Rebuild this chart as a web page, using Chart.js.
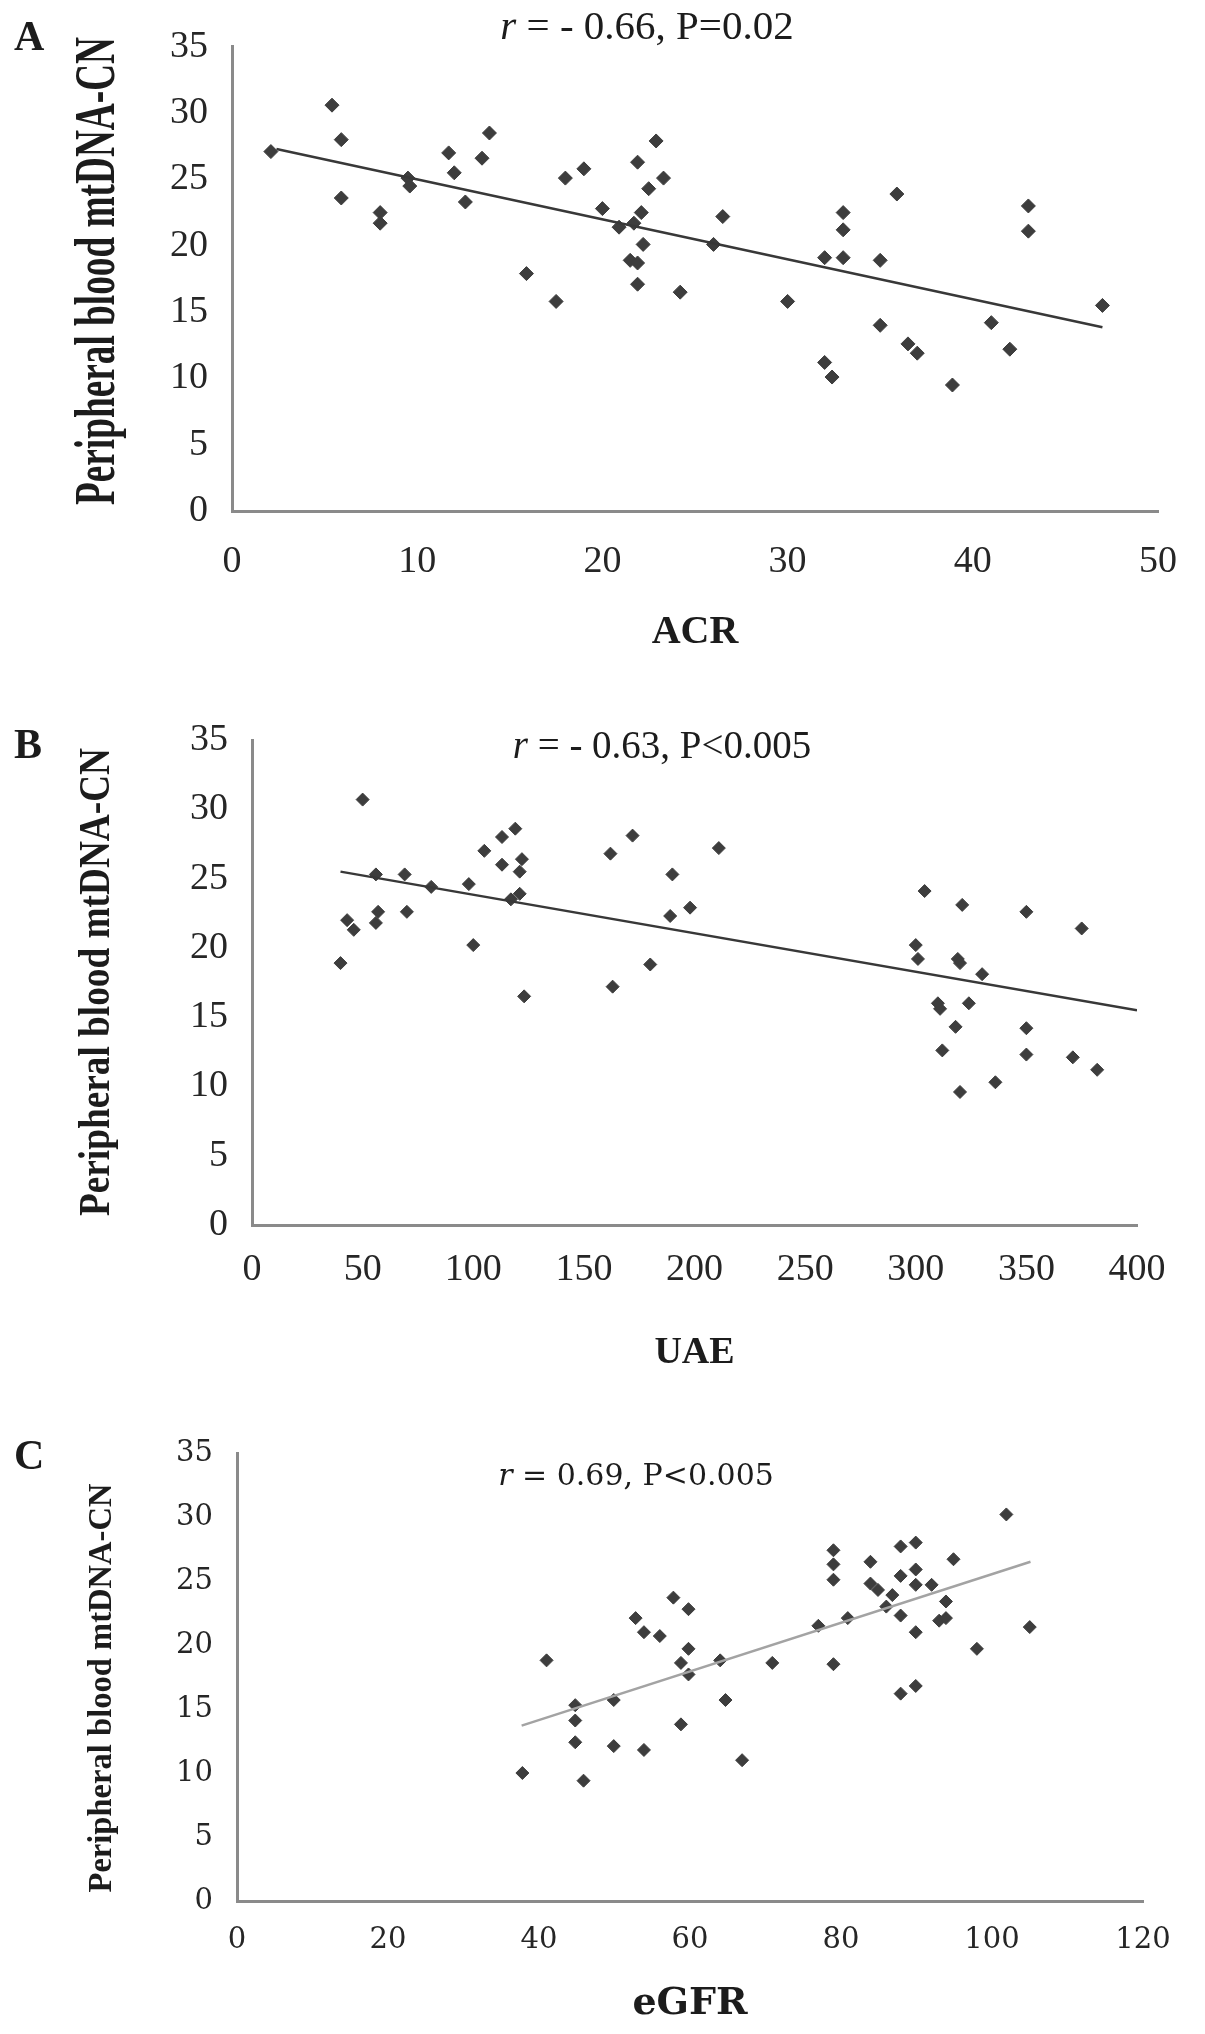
<!DOCTYPE html>
<html>
<head>
<meta charset="utf-8">
<script src="https://cdn.jsdelivr.net/npm/chart.js@4.4.1/dist/chart.umd.min.js"></script>
<style>
  html, body { margin: 0; padding: 0; background: #fff; }
  body { width: 1205px; height: 2034px; position: relative; overflow: hidden; }
  canvas { position: absolute; left: 0; }
</style>
</head>
<body>
<canvas id="chartA" width="1205" height="680" style="top:0px"></canvas>
<canvas id="chartB" width="1205" height="720" style="top:680px"></canvas>
<canvas id="chartC" width="1205" height="634" style="top:1400px"></canvas>
<script>
// panel A: ACR vs mtDNA-CN
const acrX = [2.1, 5.4, 5.9, 5.9, 8.0, 8.0, 9.5, 9.6, 11.7, 12.0, 12.6, 13.5, 13.9, 15.9, 17.5, 18.0, 19.0, 20.0, 20.9, 21.5,
  21.9, 21.9, 21.9, 21.7, 22.1, 22.2, 22.5, 22.9, 23.3, 24.2, 26.0, 26.5, 30.0, 32.0, 32.0, 32.4, 33.0, 33.0, 33.0, 35.0,
  35.0, 35.9, 36.5, 37.0, 38.9, 41.0, 42.0, 43.0, 43.0, 47.0];
const acrY = [27.1, 30.6, 28.0, 23.6, 22.5, 21.7, 25.1, 24.5, 27.0, 25.5, 23.3, 26.6, 28.5, 17.9, 15.8, 25.1, 25.8, 22.8, 21.4, 18.9,
  18.7, 17.1, 26.3, 21.7, 22.5, 20.1, 24.3, 27.9, 25.1, 16.5, 20.1, 22.2, 15.8, 19.1, 11.2, 10.1, 22.5, 21.2, 19.1, 18.9,
  14.0, 23.9, 12.6, 11.9, 9.5, 14.2, 12.2, 23.0, 21.1, 15.5];
const acrTrendX = [2.4, 47];
const acrTrendY = [27.3, 13.85];

// panel B: UAE vs mtDNA-CN
const uaeX = [50, 40, 43, 46, 56, 57, 56, 69, 70, 81, 98, 100, 105, 113, 113, 119, 122, 121, 121, 117,
  123, 162, 163, 172, 180, 190, 189, 198, 211, 304, 300, 301, 321, 319, 320, 330, 350, 375, 310, 311,
  324, 318, 350, 312, 350, 371, 382, 336, 320];
const uaeY = [30.7, 18.9, 22.0, 21.3, 25.3, 22.6, 21.8, 25.3, 22.6, 24.4, 24.6, 20.2, 27.0, 28.0, 26.0, 28.6, 26.4, 25.5, 23.9, 23.5,
  16.5, 26.8, 17.2, 28.1, 18.8, 25.3, 22.3, 22.9, 27.2, 24.1, 20.2, 19.2, 23.1, 19.2, 18.9, 18.1, 22.6, 21.4, 16.0, 15.6,
  16.0, 14.3, 14.2, 12.6, 12.3, 12.1, 11.2, 10.3, 9.6];
const uaeTrendX = [40, 400];
const uaeTrendY = [25.5, 15.5];

// panel C: eGFR vs mtDNA-CN
const egfrX = [37.8, 41.0, 44.8, 44.8, 44.8, 45.9, 49.9, 49.9, 52.8, 53.9, 53.9, 56.0, 57.8, 58.8, 58.8, 59.8, 59.8, 59.8, 64.0, 64.7,
  66.9, 70.9, 77.0, 79.0, 79.0, 79.0, 79.0, 80.9, 83.9, 83.9, 84.9, 86.8, 86.0, 87.9, 87.9, 87.9, 87.9, 89.9, 89.9, 89.9,
  89.9, 89.9, 92.0, 93.9, 93.0, 93.9, 94.9, 98.0, 101.9, 105.0];
const egfrY = [10.0, 18.8, 15.3, 14.1, 12.4, 9.4, 15.7, 12.1, 22.1, 21.0, 11.8, 20.7, 23.7, 18.6, 13.8, 22.8, 19.7, 17.7, 18.8, 15.7,
  11.0, 18.6, 21.5, 27.4, 26.3, 25.1, 18.5, 22.1, 26.5, 24.8, 24.3, 23.9, 23.0, 27.7, 25.4, 22.3, 16.2, 28.0, 25.9, 24.7,
  21.0, 16.8, 24.7, 23.4, 21.9, 22.1, 26.7, 19.7, 30.2, 21.4];
const egfrTrendX = [37.7, 105.1];
const egfrTrendY = [13.7, 26.5];

const yTicks = [0, 5, 10, 15, 20, 25, 30, 35];
const yTitle = 'Peripheral blood mtDNA-CN';

const toPoints = (xs, ys) => xs.map((x, i) => ({ x: x, y: ys[i] }));

// letters, r-annotation and the condensed y title
const panelText = {
  id: 'panelText',
  afterDraw(chart, args, o) {
    const ctx = chart.ctx;
    ctx.save();
    ctx.fillStyle = '#1c1c1c';
    ctx.textBaseline = 'middle';

    ctx.font = o.letterFont;
    ctx.textAlign = 'left';
    ctx.fillText(o.letter, o.letterX, o.letterY);

    ctx.font = 'italic ' + o.rFont;
    const w1 = ctx.measureText('r').width;
    ctx.font = o.rFont;
    const w2 = ctx.measureText(o.rText).width;
    const sx = o.rX - (w1 + w2) / 2;
    ctx.font = 'italic ' + o.rFont;
    ctx.fillText('r', sx, o.rY);
    ctx.font = o.rFont;
    ctx.fillText(o.rText, sx + w1, o.rY);

    ctx.translate(o.titleX, o.titleY);
    ctx.rotate(-Math.PI / 2);
    ctx.font = o.titleFont;
    const tw = ctx.measureText(yTitle).width;
    ctx.scale(o.titleLen / tw, 1);
    ctx.textAlign = 'center';
    ctx.fillText(yTitle, 0, 0);
    ctx.restore();
  }
};

function makeChart(id, p) {
  return new Chart(document.getElementById(id), {
    type: 'scatter',
    data: {
      datasets: [
        {
          data: toPoints(p.trendX, p.trendY),
          showLine: true,
          pointRadius: 0,
          borderColor: p.trendColor,
          borderWidth: 2.5,
        },
        {
          data: toPoints(p.xs, p.ys),
          pointStyle: 'rectRot',
          pointRadius: p.markerSize,
          backgroundColor: '#3d3d3d',
          borderColor: '#3d3d3d',
          borderWidth: 1,
        }
      ]
    },
    options: {
      responsive: false,
      devicePixelRatio: 1,
      animation: false,
      layout: { padding: p.padding },
      plugins: {
        legend: { display: false },
        tooltip: { enabled: false },
        panelText: p.text
      },
      scales: {
        x: {
          type: 'linear',
          min: 0,
          max: p.xMax,
          afterFit: (s) => { s.height = p.xHeight; },
          grid: { display: false, drawTicks: false },
          border: { color: '#8a8a8a', width: 3 },
          ticks: { stepSize: p.xStep, padding: p.xPad, color: '#262626', font: p.tickFont },
          title: {
            display: true,
            text: p.xTitle,
            color: '#1c1c1c',
            font: p.xTitleFont,
            padding: { top: 0, bottom: p.xTitlePad }
          }
        },
        y: {
          min: 0,
          max: 35,
          afterFit: (s) => { s.width = p.yWidth; },
          afterBuildTicks: (s) => { s.ticks = yTicks.map(v => ({ value: v })); },
          grid: { display: false, drawTicks: false },
          border: { color: '#8a8a8a', width: 3 },
          ticks: { padding: 24, color: '#262626', font: p.tickFont }
        }
      }
    },
    plugins: [panelText]
  });
}

makeChart('chartA', {
  xs: acrX, ys: acrY, trendX: acrTrendX, trendY: acrTrendY, trendColor: '#383838', markerSize: 7,
  xMax: 50, xStep: 10, xTitle: 'ACR',
  padding: { left: 0, top: 30, right: 33, bottom: 0 },
  yWidth: 232, xHeight: 169, xPad: 28,
  tickFont: { family: 'Liberation Serif', size: 38 },
  xTitleFont: { family: 'Liberation Serif', size: 40, weight: 'bold' }, xTitlePad: 23,
  text: {
    letter: 'A', letterX: 14, letterY: 39, letterFont: 'bold 42px "Liberation Serif"',
    rText: ' = - 0.66, P=0.02', rX: 647, rY: 28, rFont: '41px "Liberation Serif"',
    titleX: 100, titleY: 271, titleFont: 'bold 56px "Liberation Serif"', titleLen: 468
  }
});

makeChart('chartB', {
  xs: uaeX, ys: uaeY, trendX: uaeTrendX, trendY: uaeTrendY, trendColor: '#383838', markerSize: 6.5,
  xMax: 400, xStep: 50, xTitle: 'UAE',
  padding: { left: 0, top: 60, right: 68, bottom: 0 },
  yWidth: 252, xHeight: 175, xPad: 22,
  tickFont: { family: 'Liberation Serif', size: 38 },
  xTitleFont: { family: 'Liberation Serif', size: 38, weight: 'bold' }, xTitlePad: 24,
  text: {
    letter: 'B', letterX: 14, letterY: 67, letterFont: 'bold 42px "Liberation Serif"',
    rText: ' = - 0.63, P<0.005', rX: 662, rY: 68, rFont: '39px "Liberation Serif"',
    titleX: 98, titleY: 302, titleFont: 'bold 44px "Liberation Serif"', titleLen: 468
  }
});

makeChart('chartC', {
  xs: egfrX, ys: egfrY, trendX: egfrTrendX, trendY: egfrTrendY, trendColor: '#a3a3a3', markerSize: 6.5,
  xMax: 120, xStep: 20, xTitle: 'eGFR',
  padding: { left: 0, top: 53, right: 62, bottom: 0 },
  yWidth: 237, xHeight: 133, xPad: 22,
  tickFont: { family: 'DejaVu Serif', size: 29 },
  xTitleFont: { family: 'DejaVu Serif', size: 38, weight: 'bold' }, xTitlePad: 7,
  text: {
    letter: 'C', letterX: 14, letterY: 58, letterFont: 'bold 42px "Liberation Serif"',
    rText: ' = 0.69, P<0.005', rX: 636, rY: 77, rFont: '30px "DejaVu Serif"',
    titleX: 102, titleY: 288, titleFont: 'bold 34px "Liberation Serif"', titleLen: 409
  }
});
</script>
</body>
</html>
